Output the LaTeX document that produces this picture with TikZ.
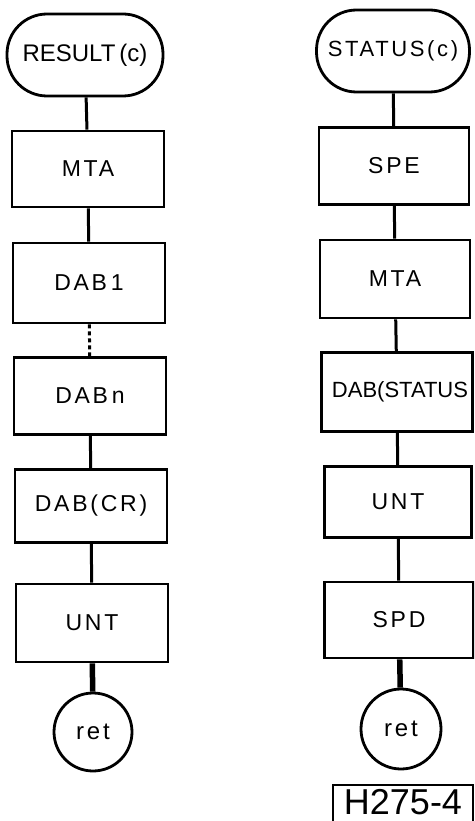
\documentclass[tikz,border=0pt]{standalone}
\usepackage{fontspec}
\setmainfont{Liberation Sans}
\newfontfamily\lblfont[LetterSpace=12]{Liberation Sans}
\newfontfamily\tightfont{Liberation Sans}
\begin{document}
\begin{tikzpicture}[x=1pt,y=-1pt,
  box/.style={draw,line width=2.8pt,rectangle,minimum width=152pt,minimum height=76pt,inner sep=0pt,font=\lblfont\fontsize{23}{26}\selectfont},
  term/.style={draw,line width=2.8pt,rectangle,rounded corners=40pt,minimum width=156pt,minimum height=82pt,inner sep=0pt,font=\tightfont\fontsize{24}{26}\selectfont},
  endc/.style={draw,line width=2.8pt,circle,minimum size=78pt,inner sep=0pt,font=\lblfont\fontsize{24}{26}\selectfont},
  link/.style={line width=3pt},
  thick link/.style={line width=5.5pt},
  dot link/.style={line width=3pt,dash pattern=on 4pt off 3pt}]
\useasboundingbox (0,0) rectangle (474,821);
\begin{scope}
\clip (0,0) rectangle (474,821);

% left routine
\node[term] (res) at (85,55) {RESULT\,(c)};
\node[box] (mtaA) at (88,169) {MTA};
\node[box,minimum height=80pt] (dab1) at (89,283) {DAB\,1};
\node[box,minimum height=77pt] (dabn) at (90,396) {DAB\,n};
\node[box,minimum height=73pt] (dabcr) at (91,506) {DAB(CR)};
\node[box,minimum height=78pt] (untA) at (92,623) {UNT};
\node[endc] (retA) at (93,732) {ret};

\draw[link] (res) -- (mtaA);
\draw[link] (mtaA) -- (dab1);
\draw[dot link] (dab1) -- (dabn);
\draw[link] (dabn) -- (dabcr);
\draw[link] (dabcr) -- (untA);
\draw[thick link] (untA) -- (retA);

% right routine
\node[term,minimum width=153pt,font=\lblfont\fontsize{22}{26}\selectfont] (stat) at (393,51) {STATUS(c)};
\node[box,minimum width=150pt,minimum height=77pt] (spe) at (394,166) {SPE};
\node[box,minimum width=150pt,minimum height=78pt] (mtaB) at (395,279) {MTA};
\node[box,minimum width=151pt,minimum height=79pt,font=\tightfont\fontsize{22}{26}\selectfont] (dabst) at (397,392) {\hspace*{6pt}DAB(STATUS};
\node[box,minimum width=147pt,minimum height=71pt] (untB) at (398,502) {UNT};
\node[box,minimum width=149pt,minimum height=76pt] (spd) at (399,620) {SPD};
\node[endc,minimum size=80pt] (retB) at (401,729) {ret};

\draw[link] (stat) -- (spe);
\draw[link] (spe) -- (mtaB);
\draw[link] (mtaB) -- (dabst);
\draw[link] (dabst) -- (untB);
\draw[link] (untB) -- (spd);
\draw[thick link] (spd) -- (retB);

% drawing number
\draw[line width=2.4pt] (333,830) |- (473,785) -- (473,830);
\node[inner sep=0pt,anchor=base,font=\tightfont\fontsize{36}{40}\selectfont] (tag) at (403,814) {H275-4};
\end{scope}
\end{tikzpicture}
\end{document}
